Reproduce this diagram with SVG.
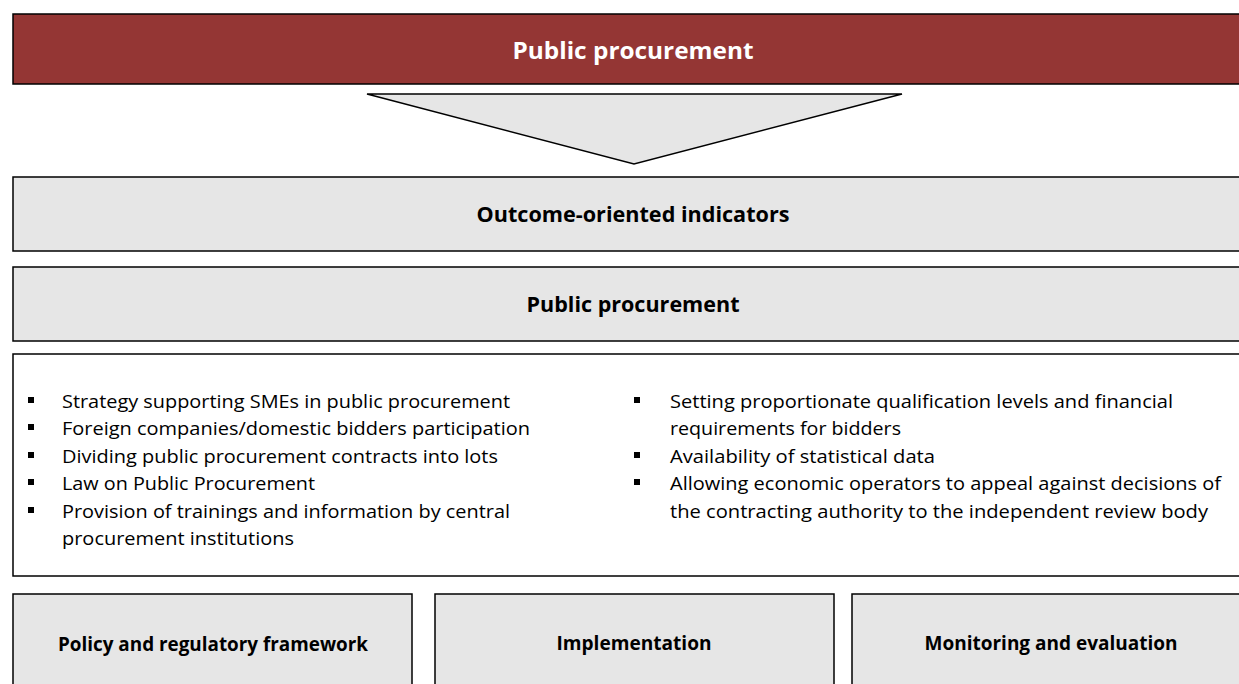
<svg xmlns="http://www.w3.org/2000/svg" width="1239" height="684" viewBox="0 0 1239 684">
<style>
.box{fill:#e6e6e6;stroke:#000;stroke-width:1.5}
.white{fill:#fff;stroke:#000;stroke-width:1.5}
.h{font-family:"Open Sans","Liberation Sans",sans-serif;font-weight:bold;font-size:21px;fill:#000;text-anchor:middle}
.t{font-family:"Open Sans","Liberation Sans",sans-serif;font-size:19px;fill:#000}
.b{fill:#000}
</style>
<rect width="1239" height="684" fill="#fff"/>
<g id="top">
<rect x="13" y="14" width="1240" height="70" fill="#943634" stroke="#000" stroke-width="1.5"/>
<text x="633" y="59" class="h" style="fill:#fff;font-size:24px" textLength="241" lengthAdjust="spacingAndGlyphs">Public procurement</text>
</g>
<g id="connectors">
<polygon points="367,94 902,94 634,164" class="box"/>
</g>
<g id="outcome">
<rect x="13" y="177" width="1240" height="74" class="box"/>
<text x="633" y="222" class="h" textLength="313" lengthAdjust="spacingAndGlyphs">Outcome-oriented indicators</text>
</g>
<g id="pp">
<rect x="13" y="267" width="1240" height="74" class="box"/>
<text x="633" y="312" class="h" textLength="213" lengthAdjust="spacingAndGlyphs">Public procurement</text>
</g>
<g id="list">
<rect x="13" y="354" width="1240" height="222" class="white"/>
<rect x="28" y="397" width="6" height="6" class="b"/>
<rect x="28" y="424" width="6" height="6" class="b"/>
<rect x="28" y="452" width="6" height="6" class="b"/>
<rect x="28" y="479" width="6" height="6" class="b"/>
<rect x="28" y="507" width="6" height="6" class="b"/>
<text x="62" y="408" class="t" textLength="448" lengthAdjust="spacingAndGlyphs">Strategy supporting SMEs in public procurement</text>
<text x="62" y="435" class="t" textLength="468" lengthAdjust="spacingAndGlyphs">Foreign companies/domestic bidders participation</text>
<text x="62" y="463" class="t" textLength="436" lengthAdjust="spacingAndGlyphs">Dividing public procurement contracts into lots</text>
<text x="62" y="490" class="t" textLength="253" lengthAdjust="spacingAndGlyphs">Law on Public Procurement</text>
<text x="62" y="518" class="t" textLength="448" lengthAdjust="spacingAndGlyphs">Provision of trainings and information by central</text>
<text x="62" y="545" class="t" textLength="232" lengthAdjust="spacingAndGlyphs">procurement institutions</text>
<rect x="634" y="397" width="6" height="6" class="b"/>
<rect x="634" y="452" width="6" height="6" class="b"/>
<rect x="634" y="479" width="6" height="6" class="b"/>
<text x="670" y="408" class="t" textLength="503" lengthAdjust="spacingAndGlyphs">Setting proportionate qualification levels and financial</text>
<text x="670" y="435" class="t" textLength="231" lengthAdjust="spacingAndGlyphs">requirements for bidders</text>
<text x="670" y="463" class="t" textLength="265" lengthAdjust="spacingAndGlyphs">Availability of statistical data</text>
<text x="670" y="490" class="t" textLength="551" lengthAdjust="spacingAndGlyphs">Allowing economic operators to appeal against decisions of</text>
<text x="670" y="518" class="t" textLength="538" lengthAdjust="spacingAndGlyphs">the contracting authority to the independent review body</text>
</g>
<g id="policy">
<rect x="13" y="594" width="399" height="100" class="box"/>
<text x="213" y="651" class="h" style="font-size:19px" textLength="310" lengthAdjust="spacingAndGlyphs">Policy and regulatory framework</text>
</g>
<g id="implementation">
<rect x="435" y="594" width="399" height="100" class="box"/>
<text x="634" y="650" class="h" style="font-size:19px" textLength="155" lengthAdjust="spacingAndGlyphs">Implementation</text>
</g>
<g id="monitoring">
<rect x="852" y="594" width="400" height="100" class="box"/>
<text x="1051" y="650" class="h" style="font-size:19px" textLength="253" lengthAdjust="spacingAndGlyphs">Monitoring and evaluation</text>
</g>
</svg>
